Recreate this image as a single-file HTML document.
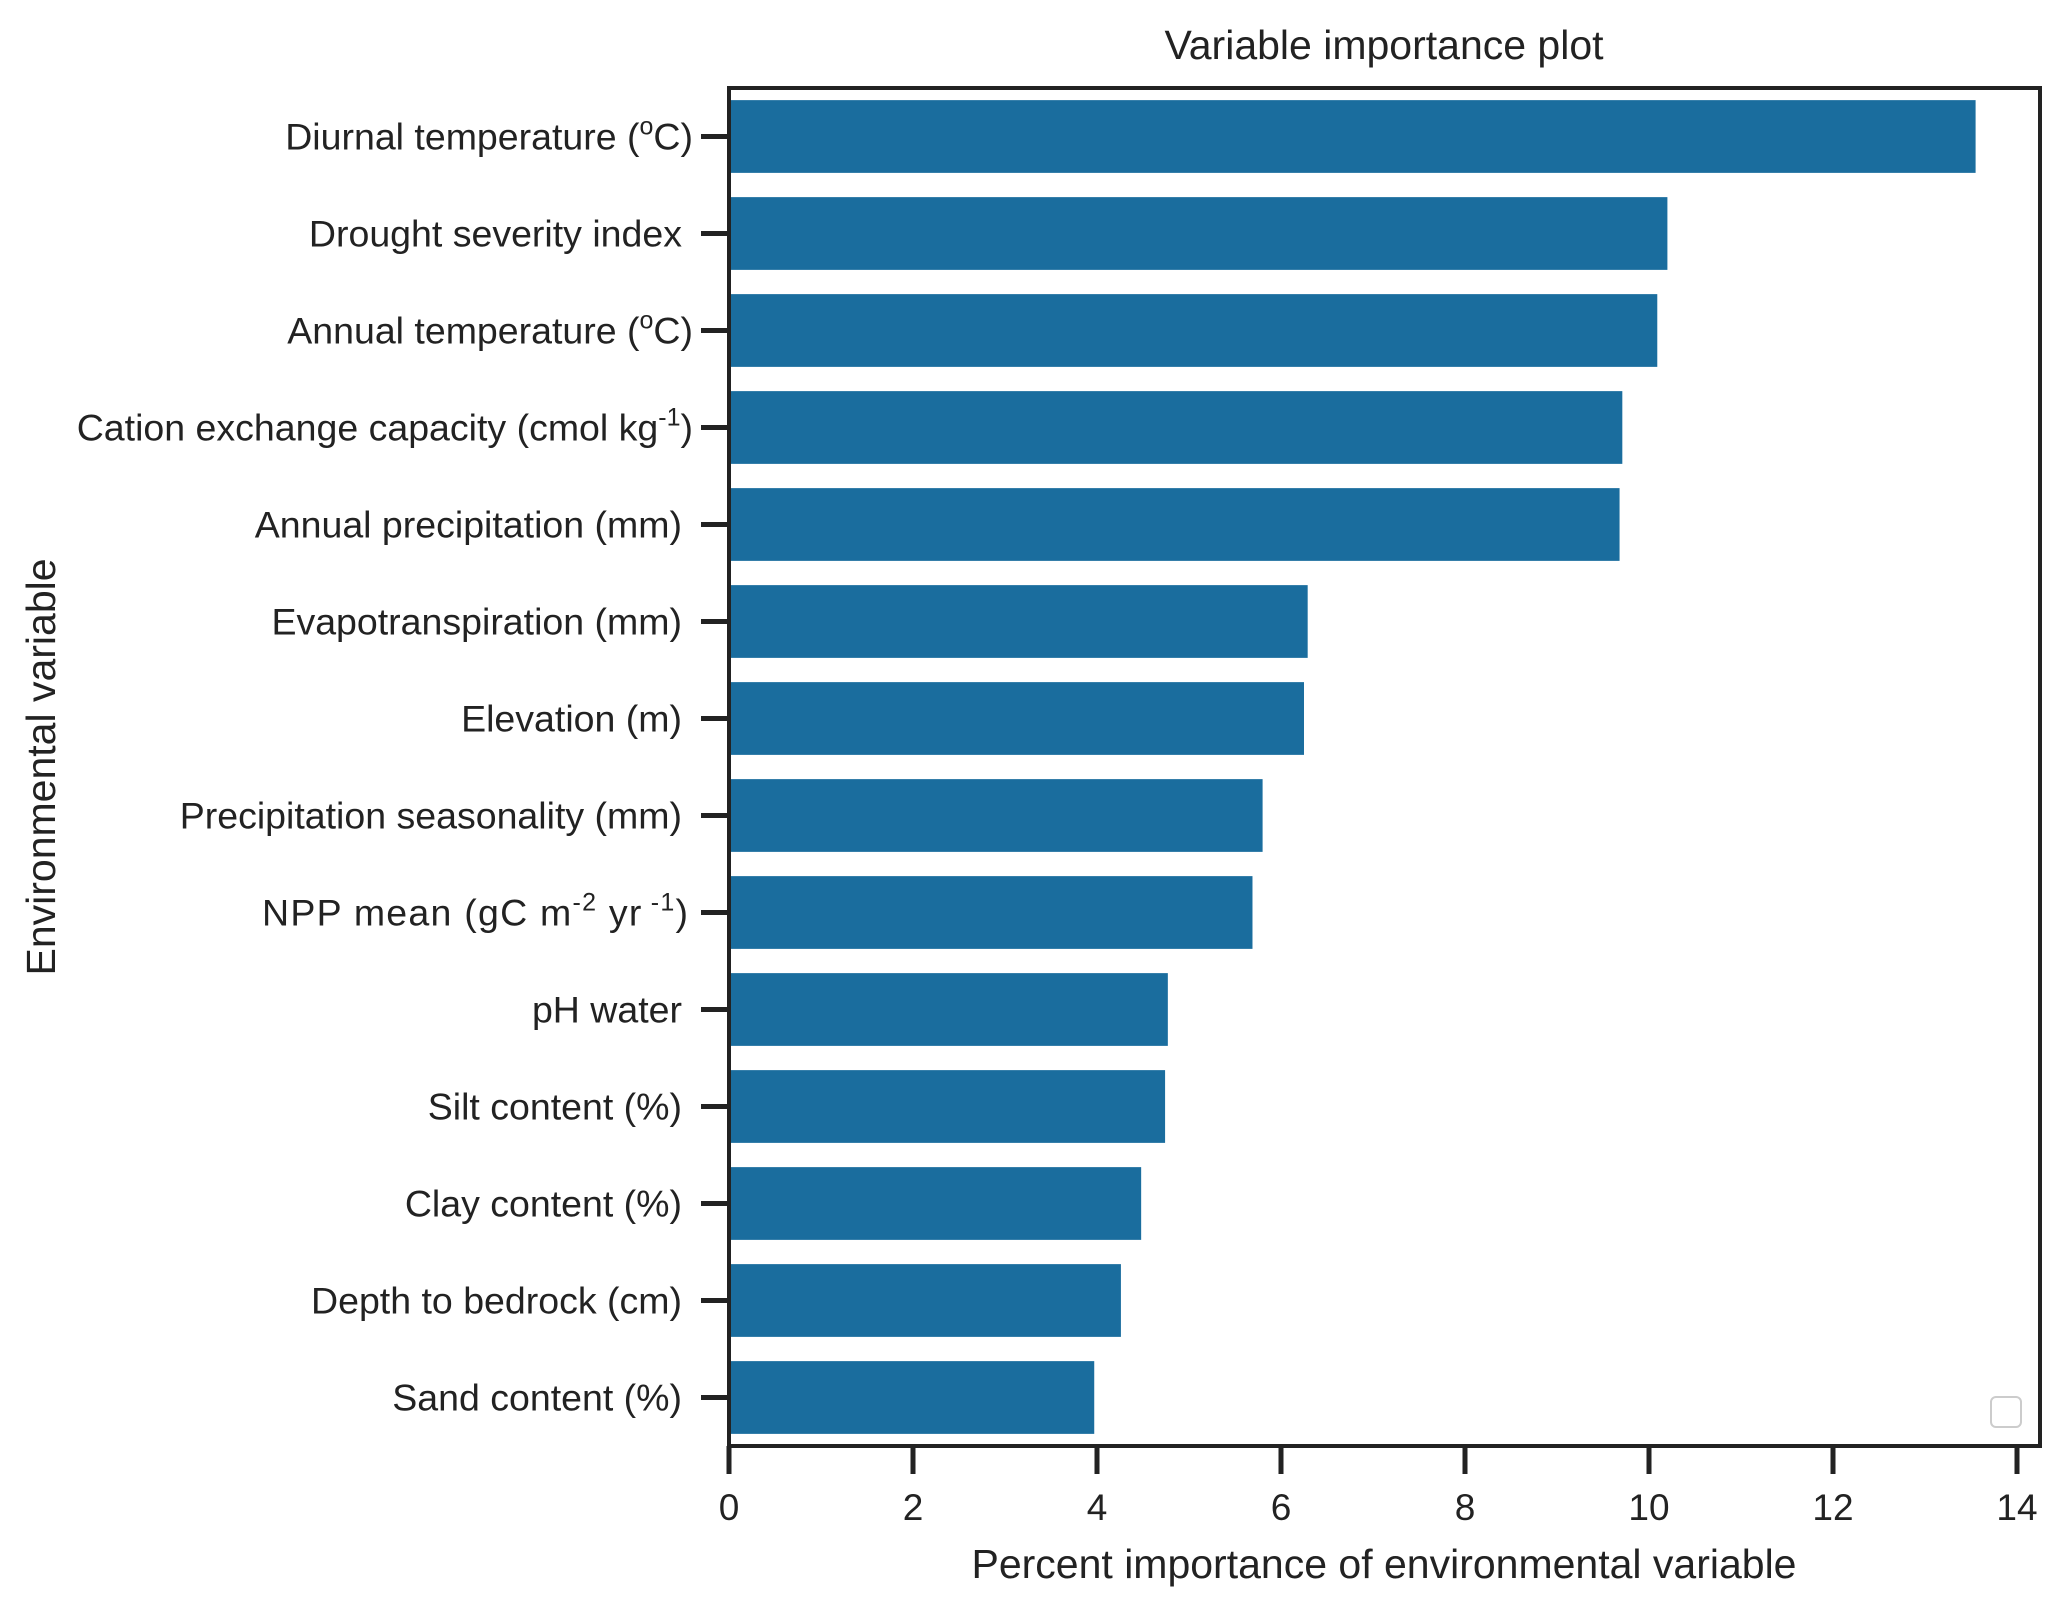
<!DOCTYPE html>
<html><head><meta charset="utf-8"><style>
html,body{margin:0;padding:0;background:#fff;}
svg{display:block;font-family:"Liberation Sans",Arial,sans-serif;}
</style></head><body>
<svg id="chart" width="2067" height="1615" viewBox="0 0 2067 1615" xmlns="http://www.w3.org/2000/svg">
<text x="1384" y="59" font-size="41" text-anchor="middle" fill="#222">Variable importance plot</text>
<text x="1384" y="1578" font-size="41" text-anchor="middle" fill="#222">Percent importance of environmental variable</text>
<text transform="translate(55,767) rotate(-90)" font-size="41" text-anchor="middle" fill="#222">Environmental variable</text>
<g id="bars"></g>
<g id="yticks"></g>
<g id="xticks"></g>
<rect x="729" y="88" width="1311" height="1358" fill="none" stroke="#222" stroke-width="4"/>
<rect x="1991" y="1397" width="30" height="30" rx="5" fill="#fff" stroke="#ccc" stroke-width="2"/>
</svg>
<script>
const categories = ["Diurnal temperature (°C)","Drought severity index","Annual temperature (°C)","Cation exchange capacity (cmol kg-1)","Annual precipitation (mm)","Evapotranspiration (mm)","Elevation (m)","Precipitation seasonality (mm)","NPP mean (gC m-2 yr-1)","pH water","Silt content (%)","Clay content (%)","Depth to bedrock (cm)","Sand content (%)"];
const importance = [13.55,10.2,10.09,9.71,9.68,6.29,6.25,5.80,5.69,4.77,4.74,4.48,4.26,3.97];
const xTicks = [0,2,4,6,8,10,12,14];
const labelHtml = [
 'Diurnal temperature (<tspan font-size="25" dy="-15">o</tspan><tspan dy="15">C)</tspan>',
 'Drought severity index',
 'Annual temperature (<tspan font-size="25" dy="-15">o</tspan><tspan dy="15">C)</tspan>',
 'Cation exchange capacity (cmol kg<tspan font-size="25" dy="-15">-1</tspan><tspan dy="15">)</tspan>',
 'Annual precipitation (mm)',
 'Evapotranspiration (mm)',
 'Elevation (m)',
 'Precipitation seasonality (mm)',
 'NPP mean (gC m<tspan font-size="25" dy="-15">-2</tspan><tspan dy="15"> yr</tspan><tspan font-size="25" dy="-15"> -1</tspan><tspan dy="15">)</tspan>',
 'pH water','Silt content (%)','Clay content (%)','Depth to bedrock (cm)','Sand content (%)'];
const NS="http://www.w3.org/2000/svg";
const L=729,T=88,B=1446,x0v=0,x1v=14,x0p=729,x1p=2017;
const xs=v=>x0p+(v-x0v)/(x1v-x0v)*(x1p-x0p);
const band=(B-T)/categories.length;
const ys=i=>T+band*i;
const bars=document.getElementById('bars'),yt=document.getElementById('yticks'),xt=document.getElementById('xticks');
categories.forEach((c,i)=>{
  const r=document.createElementNS(NS,'rect');
  
  
  r.setAttribute('x',xs(0));r.setAttribute('y',ys(i)+band*0.125);
  r.setAttribute('width',xs(importance[i])-xs(0));r.setAttribute('height',band*0.75);
  r.setAttribute('fill','#1a6d9e');
  bars.appendChild(r);
  const cy=ys(i)+band/2;
  const tk=document.createElementNS(NS,'line');
  
  
  tk.setAttribute('x1',L-28);tk.setAttribute('x2',L);tk.setAttribute('y1',cy);tk.setAttribute('y2',cy);
  tk.setAttribute('stroke','#222');tk.setAttribute('stroke-width','5');
  yt.appendChild(tk);
  const sup=labelHtml[i].indexOf('tspan')>=0;
  const t=document.createElementNS(NS,'text');
  
  
  t.setAttribute('x',sup?L-36:L-47);t.setAttribute('y',cy+13);t.setAttribute('font-size','37.5');
  t.setAttribute('text-anchor','end');t.setAttribute('fill','#222');
  t.innerHTML=labelHtml[i];
  yt.appendChild(t);
  if(c.indexOf('NPP')===0){t.setAttribute('x',L-41);t.setAttribute('textLength','426');t.setAttribute('lengthAdjust','spacing');}
});
xTicks.forEach(v=>{
  const tk=document.createElementNS(NS,'line');
  
  
  tk.setAttribute('x1',xs(v));tk.setAttribute('x2',xs(v));tk.setAttribute('y1',B);tk.setAttribute('y2',B+28);
  tk.setAttribute('stroke','#222');tk.setAttribute('stroke-width','5');
  xt.appendChild(tk);
  const t=document.createElementNS(NS,'text');
  
  
  t.setAttribute('x',xs(v));t.setAttribute('y',1520);t.setAttribute('font-size','37');
  t.setAttribute('text-anchor','middle');t.setAttribute('fill','#222');
  t.textContent=v;
  xt.appendChild(t);
});
</script>
</body></html>
